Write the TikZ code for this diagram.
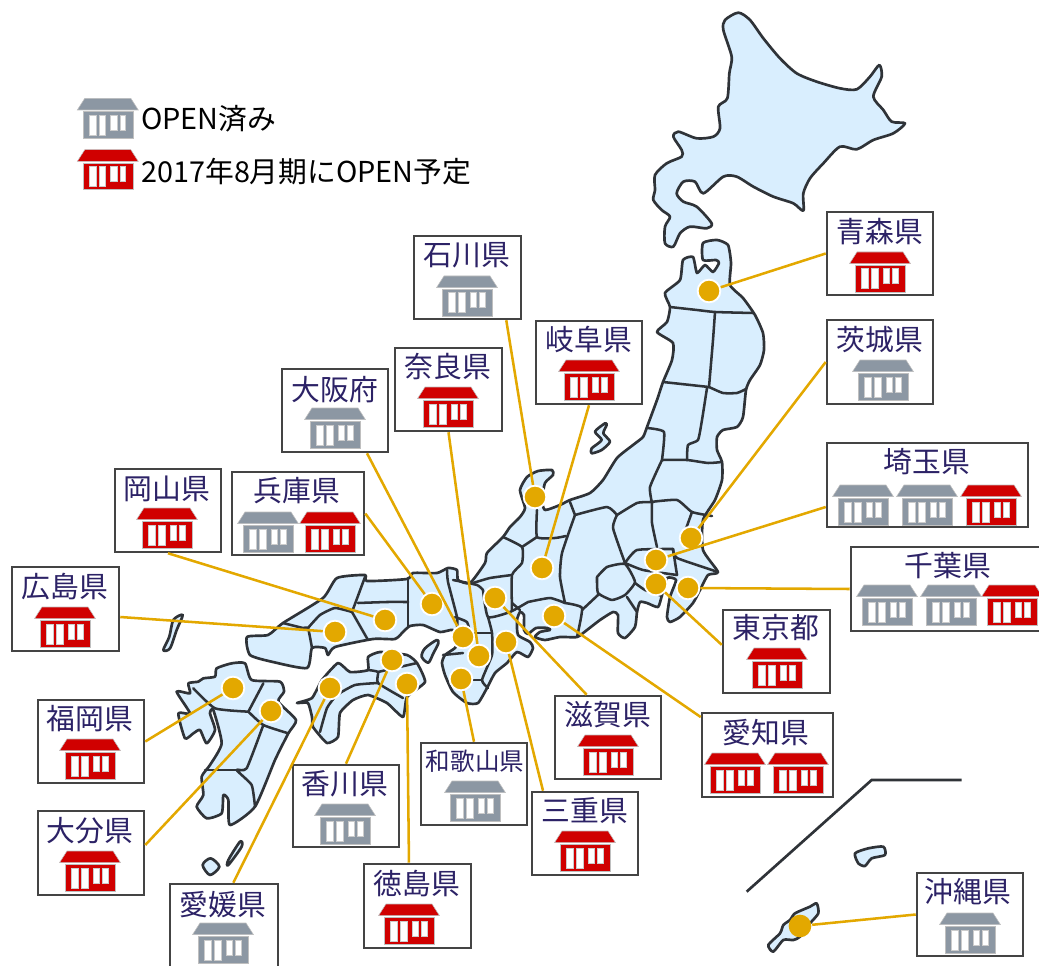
\documentclass[tikz,border=0pt]{standalone}
\usepackage{fontspec}
\setmainfont{Noto Sans CJK JP}
\usetikzlibrary{fit}
\definecolor{landfill}{HTML}{D9EEFE}
\definecolor{landline}{HTML}{2F3338}
\definecolor{framegray}{HTML}{444444}
\definecolor{linkgold}{HTML}{E3A800}
\definecolor{labelnavy}{HTML}{2C2266}
\definecolor{shopgray}{HTML}{8C97A3}
\definecolor{shopred}{HTML}{D00000}
\tikzset{
  land/.style={draw=landline,fill=landfill,line width=2pt,line join=round},
  border/.style={draw=landline,line width=1.9pt,line join=round,line cap=round},
  zoomframe/.style 2 args={shift={(#1,#2)},x=0.25pt,y=-0.25pt},
  framebox/.style={draw=framegray,fill=white,line width=1.9pt,inner sep=0pt,rectangle},
  spot/.style={circle,fill=linkgold,draw=white,line width=1.4pt,minimum size=17pt,inner sep=0pt},
  link/.style={draw=linkgold,line width=1.9pt},
  boxlabel/.style={text=labelnavy,font=\fontsize{21.6pt}{24pt}\selectfont,inner sep=0pt},
  legendtext/.style={text=black,font=\fontsize{21.6pt}{24pt}\selectfont,anchor=west,inner sep=0pt},
  shop/.pic={
    \fill[#1,draw=black!25,line width=.4pt] (-23,-20) -- (23,-20) -- (30.5,-8.3) -- (-30.5,-8.3) -- cycle;
    \fill[#1,draw=black!25,line width=.4pt] (-25,-6.7) rectangle (25,20);
    \fill[white,draw=black!20,line width=.3pt] (-18.5,-3.3) rectangle (-11.8,16.7);
    \fill[white,draw=black!20,line width=.3pt] (-8.8,-3.3) rectangle (-2.2,16.7);
    \fill[white,draw=black!20,line width=.3pt] (2.8,-3.3) rectangle (9.5,11.7);
    \fill[white,draw=black!20,line width=.3pt] (12.2,-3.3) rectangle (17.8,11.7);
  }
}
\begin{document}
\begin{tikzpicture}[x=0.75pt,y=-0.75pt]
\useasboundingbox (0,0) rectangle (1039,966);
% Hokkaido
\begin{scope}[zoomframe={640}{0}]
\path[land] plot[smooth cycle,tension=.45] coordinates {(295,38)(330,60)(370,115)(420,175)(470,220)(530,245)(600,265)(650,268)(690,230)(718,195)(725,230)(700,290)(730,330)(755,365)(795,370)(760,400)(700,420)(650,448)(600,440)(550,490)(510,535)(490,580)(490,632)(460,610)(400,590)(340,560)(290,530)(250,530)(190,580)(165,545)(130,545)(110,580)(130,605)(170,620)(215,670)(200,685)(150,680)(120,700)(100,740)(75,730)(75,680)(90,650)(65,630)(40,600)(45,570)(45,525)(80,490)(125,470)(125,450)(100,410)(115,395)(170,415)(220,410)(240,385)(235,320)(262,295)(268,220)(275,170)(250,90)(255,60)};
\end{scope}
% Honshu
\path[land] plot[smooth cycle,tension=.35] coordinates {(703,243)(717,240)(728,245)(731,263)(730,285)(743,298)(755,315)(763,333)(764,350)(760,365)(750,380)(746,390)(743,417)(737,427)(723,430)(717,437)(717,450)(722,462)(722,480)(715,500)(703,520)(703,550)(718,572)(708,575)(700,590)(693,603)(680,617)(670,622)(667,617)(670,597)(676,580)(667,578)(662,595)(658,607)(647,603)(640,602)(637,612)(635,627)(625,638)(618,633)(618,615)(613,612)(600,620)(587,630)(577,637)(560,637)(545,640)(535,637)(540,632)(550,630)(548,628)(536,628)(528,634)(524,630)(524,615)(520,612)(517,620)(518,635)(530,642)(533,648)(528,657)(517,652)(507,663)(495,673)(487,688)(478,703)(467,703)(453,692)(445,675)(442,663)(445,655)(455,648)(457,642)(453,630)(440,632)(423,625)(410,626)(403,632)(395,639)(373,639)(335,647)(328,655)(325,648)(312,648)(307,668)(273,662)(250,655)(247,637)(268,635)(283,623)(323,598)(337,578)(365,575)(367,581)(407,579)(413,573)(437,573)(448,568)(457,570)(458,580)(470,583)(485,563)(487,553)(503,537)(510,527)(520,517)(525,508)(520,490)(527,477)(538,471)(552,470)(553,475)(545,483)(542,500)(545,510)(560,505)(570,500)(590,493)(603,480)(617,458)(633,445)(643,437)(647,427)(657,400)(663,382)(672,360)(673,343)(657,332)(667,322)(670,307)(665,293)(680,280)(683,260)(693,257)(697,273)(705,265)(713,272)(719,263)(716,260)(703,260)};
% Honshu borders
\foreach \route in {
 {(670,307)(697,310)(715,312)(753,313)},
 {(715,312)(713,340)(709,387)},
 {(663,382)(709,387)},
 {(709,387)(723,393)(737,393)(746,389)},
 {(707,388)(702,420)(698,440)(688,445)(687,460)},
 {(647,428)(664,432)(662,460)},
 {(662,460)(687,460)(708,463)(722,462)},
 {(662,460)(650,487)(652,503)},
 {(617,515)(637,503)(650,502)(677,500)(692,512)(712,516)},
 {(692,512)(683,537)},
 {(652,503)(652,523)(657,547)},
 {(625,563)(637,550)(673,549)},
 {(673,549)(677,558)(718,572)},
 {(673,549)(677,575)},
 {(625,563)(643,570)(677,575)},
 {(597,577)(607,567)(625,564)(635,582)(625,595)(612,600)(598,593)(597,577)},
 {(617,515)(613,528)(625,563)},
 {(575,515)(607,507)(617,515)},
 {(570,502)(575,515)},
 {(537,510)(537,537)(555,538)(566,536)},
 {(575,515)(562,553)(560,577)(565,603)},
 {(565,603)(582,608)(577,637)},
 {(598,595)(582,610)},
 {(627,597)(637,612)},
 {(635,583)(645,590)(662,596)},
 {(528,602)(550,598)(565,603)},
 {(503,537)(522,547)(522,563)(512,575)(512,610)},
 {(537,537)(522,547)},
 {(473,583)(490,578)(512,575)},
 {(483,590)(488,617)(510,612)(528,602)},
 {(512,603)(520,610)},
 {(488,617)(492,633)(492,655)(482,680)(488,688)},
 {(467,633)(492,633)},
 {(443,655)(463,653)},
 {(473,680)(482,680)},
 {(447,570)(448,582)(457,617)(457,628)},
 {(453,580)(477,585)(483,590)},
 {(455,617)(467,622)(470,633)},
 {(358,603)(387,602)(408,602)},
 {(408,578)(408,627)},
 {(365,577)(352,612)},
 {(352,612)(335,608)(320,615)(308,628)},
 {(352,612)(368,640)},
 {(283,623)(303,628)(308,628)(312,648)}}{
  \path[border] plot[smooth,tension=.3] coordinates {\route};
}
% Shikoku
\path[land] plot[smooth cycle,tension=.3] coordinates {(297,703)(312,698)(322,680)(338,663)(350,672)(368,670)(368,657)(380,652)(407,655)(417,663)(425,682)(407,697)(403,717)(387,703)(368,695)(353,700)(340,713)(338,737)(327,743)(313,727)(312,717)(308,703)};
\foreach \route in {
 {(378,672)(417,663)},
 {(368,670)(378,672)(378,683)(403,698)},
 {(320,732)(327,708)(337,695)(355,685)(378,683)}}{
  \path[border] plot[smooth,tension=.3] coordinates {\route};
}
% Kyushu
\begin{scope}[zoomframe={160}{650}]
\path[land] plot[smooth cycle,tension=.35] coordinates {(215,40)(255,40)(275,90)(360,95)(372,125)(355,155)(408,210)(385,250)(345,330)(285,470)(210,525)(205,450)(190,435)(185,490)(140,505)(110,470)(130,435)(125,380)(150,345)(185,280)(160,180)(150,190)(165,240)(140,280)(120,240)(100,250)(75,265)(55,190)(90,190)(50,125)(90,130)(85,100)(115,95)(130,85)(165,80)(170,55)};
\foreach \route in {
 {(100,115)(165,175)(265,185)},
 {(265,185)(310,100)},
 {(265,185)(310,225)(385,250)},
 {(310,225)(260,355)(230,360)(275,405)(285,470)},
 {(135,360)(230,360)}}{
  \path[border] plot[smooth,tension=.3] coordinates {\route};
}
% Tanegashima, Yakushima
\path[land] plot[smooth cycle,tension=.5] coordinates {(152,625)(128,645)(150,675)(178,650)};
\path[land] plot[smooth cycle,tension=.5] coordinates {(240,575)(205,630)(205,645)(245,590)};
\end{scope}
% Sado
\begin{scope}[zoomframe={470}{420}]
\path[land] plot[smooth cycle,tension=.4] coordinates {(405,10)(375,35)(395,60)(365,85)(365,100)(395,90)(420,65)(400,40)(410,15)};
\end{scope}
% Awaji
\begin{scope}[zoomframe={240}{540}]
\path[land] plot[smooth cycle,tension=.5] coordinates {(590,300)(555,325)(545,350)(565,368)(580,340)(595,310)};
\end{scope}
% Tsushima
\begin{scope}[zoomframe={10}{440}]
\path[land] plot[smooth cycle,tension=.5] coordinates {(518,525)(490,540)(478,590)(460,630)(480,625)(500,570)};
\end{scope}
% Okinawa, Amami, inset line
\begin{scope}[zoomframe={740}{760}]
\path[land] plot[smooth cycle,tension=.4] coordinates {(85,555)(120,520)(130,495)(150,480)(165,460)(210,440)(230,430)(235,460)(210,490)(180,530)(160,540)(130,540)(100,575)};
\path[land] plot[smooth cycle,tension=.4] coordinates {(345,280)(385,265)(430,260)(435,285)(395,295)(375,318)(355,310)};
\draw[draw=landline,line width=2pt] (20,395) -- (395,60) -- (665,60);
\end{scope}
% Legend
\pic at (107.8,118.3) {shop=shopgray};
\pic at (107.8,169.7) {shop=shopred};
\node[legendtext] (legendopen) at (141,119) {OPEN済み};
\node[legendtext] (legendplan) at (141,172) {2017年8月期にOPEN予定};
% Spots
\foreach \name/\px/\py in {aomori/709/291,ishikawa/535/497,gifu/542/568,ibaraki/691/538,saitama/656/560,tokyo/656/584,chiba/688/588,aichi/554/616,shiga/495/598,mie/506/642,nara/479/656,osaka/463/637,hyogo/432/604,okayama/385/620,hiroshima/335/632,kagawa/392/660,tokushima/407/684,wakayama/461/679,ehime/330/688,fukuoka/233/688,oita/271/711}{
  \node[spot] (d\name) at (\px,\py) {};
}
\node[spot,draw=none,minimum size=17pt] (dokinawa) at (800,926) {};
% Boxes
\foreach \name/\xa/\ya/\xb/\yb in {aomori/827/212/933/295,ibaraki/827/320/933/404,saitama/827/443/1028/527,chiba/851/547/1045/631,tokyo/723/610/830/693,aichi/702/713/833/797,okinawa/917/873/1023/956,mie/532/792/638/875,wakayama/421/743/527/825,shiga/555/696/661/779,tokushima/364/864/471/948,kagawa/293/765/399/847,ehime/170/884/278/980,oita/38/811/144/895,fukuoka/38/700/144/783,hiroshima/12/567/119/651,okayama/115/469/221/552,hyogo/232/472/364/555,osaka/282/369/388/452,nara/395/348/502/431,ishikawa/414/236/521/319,gifu/536/321/642/404}{
  \node[framebox,fit={(\xa,\ya) (\xb,\yb)}] (b\name) {};
}
% Connectors
\draw[link] (daomori) -- (baomori.west);
\draw[link] (dibaraki) -- (bibaraki.west);
\draw[link] (dsaitama) -- ([yshift=-16.5pt]bsaitama.west);
\draw[link] (dchiba) -- (bchiba.west);
\draw[link] (dtokyo) -- ([yshift=5pt]btokyo.west);
\draw[link] (daichi) -- ([yshift=-4pt]baichi.north west);
\draw[link] (dokinawa) -- (bokinawa.west);
\draw[link] (dmie) -- ([xshift=-31.5pt]bmie.north);
\draw[link] (dwakayama) -- (bwakayama.north);
\draw[link] (dshiga) -- ([xshift=-16pt]bshiga.north);
\draw[link] (dtokushima) -- ([xshift=-6.4pt]btokushima.north);
\draw[link] (dkagawa) -- (bkagawa.north);
\draw[link] (dehime) -- ([xshift=7pt]behime.north);
\draw[link] (doita) -- ([yshift=6pt]boita.east);
\draw[link] (dfukuoka) -- (bfukuoka.east);
\draw[link] (dhiroshima) -- ([yshift=-6pt]bhiroshima.east);
\draw[link] (dokayama) -- (bokayama.south);
\draw[link] (dhyogo) -- (bhyogo.east);
\draw[link] (dosaka) -- ([xshift=24pt]bosaka.south);
\draw[link] (dnara) -- (bnara.south);
\draw[link] (dishikawa) -- ([xshift=-12pt]bishikawa.south east);
\draw[link] (dgifu) -- (bgifu.south);
% Box contents
\foreach \name/\tx/\ty/\txt in {aomori/880/232/青森県,ibaraki/880/340/茨城県,saitama/927/462/埼玉県,chiba/948/566/千葉県,tokyo/776/628/東京都,aichi/766/733/愛知県,okinawa/968/892/沖縄県,mie/585/811/三重県,shiga/608/715/滋賀県,tokushima/417/884/徳島県,kagawa/345/784/香川県,ehime/223/905/愛媛県,oita/90/831/大分県,fukuoka/90/719/福岡県,hiroshima/65/587/広島県,okayama/167/489/岡山県,hyogo/297/491/兵庫県,osaka/335/390/大阪府,nara/448/367/奈良県,ishikawa/467/255/石川県,gifu/589/340/岐阜県}{
  \node[boxlabel] (t\name) at (\tx,\ty) {\txt};
}
\node[boxlabel,font=\fontsize{18.4pt}{22pt}\selectfont] (twakayama) at (475,761) {和歌山県};
% Shops
\foreach \px/\py in {345/824,475/801,335/428,467/296,883/380,223/943,970/933,863/505,927/505,887/605,951/605,268/532}{
  \pic at (\px,\py) {shop=shopgray};
}
\foreach \px/\py in {880/272,777/668,735/773,798/773,585/851,608/755,409/924,90/871,90/759,65/627,167/528,330/532,448/407,589/380,991/505,1012/605}{
  \pic at (\px,\py) {shop=shopred};
}
\end{tikzpicture}
\end{document}
